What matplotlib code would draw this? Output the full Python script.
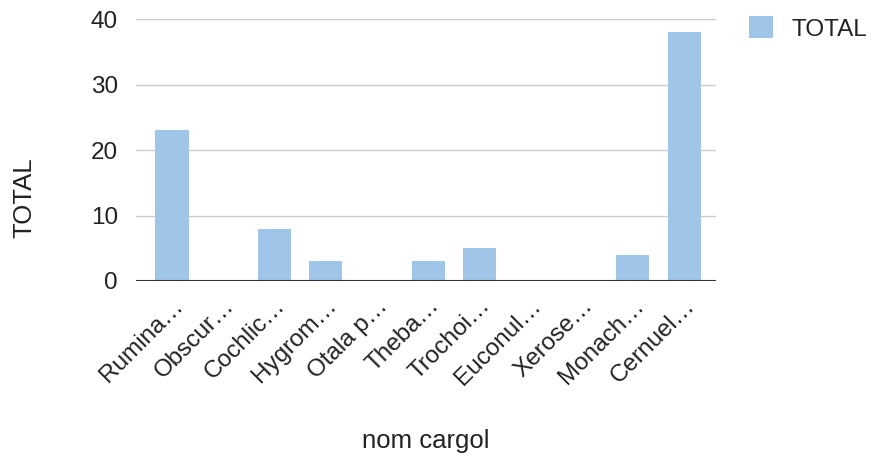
import matplotlib.pyplot as plt
import numpy as np

plt.rcParams['font.family'] = ['Liberation Sans', 'DejaVu Sans']

# dades
noms = ['Rumina…', 'Obscur…', 'Cochlic…', 'Hygrom…', 'Otala p…', 'Theba…',
        'Trochoi…', 'Euconul…', 'Xerose…', 'Monach…', 'Cernuel…']
total = [23, 0, 8, 3, 0, 3, 5, 0, 0, 4, 38]

fig = plt.figure(figsize=(8.79, 4.59), dpi=100)
ax = fig.add_axes([0.1547, 0.3878, 0.66, 0.5708])

x = np.arange(len(noms))
ax.bar(x, total, width=0.645, color='#9fc5e8', label='TOTAL', zorder=2)

ax.set_xlim(-0.703, 10.625)
ax.set_ylim(0, 40)
ax.set_yticks([0, 10, 20, 30, 40])
ax.yaxis.grid(True, color='#cccccc', linewidth=1, zorder=0)
ax.axhline(0, color='#333333', linewidth=1.5, zorder=3)
for s in ax.spines.values():
    s.set_visible(False)
ax.tick_params(axis='both', length=0, labelsize=17.5, colors='#222222')
ax.tick_params(axis='y', pad=13)
ax.set_xticks(x)
ax.set_xticklabels(noms, rotation=45, ha='right', rotation_mode='anchor')
ax.tick_params(axis='x', pad=10)

ax.set_ylabel('TOTAL', fontsize=18.5, color='#222222')
ax.yaxis.set_label_coords(-0.171, 0.317)
ax.set_xlabel('nom cargol', fontsize=18.5, color='#222222')
ax.xaxis.set_label_coords(0.5, -0.565)

fig.legend(loc='upper left', bbox_to_anchor=(0.827, 1.012), frameon=False,
           fontsize=17.5, handlelength=1.0, handleheight=1.0, handletextpad=0.75,
           labelcolor='#222222')

fig.savefig('out.png', dpi=100)
